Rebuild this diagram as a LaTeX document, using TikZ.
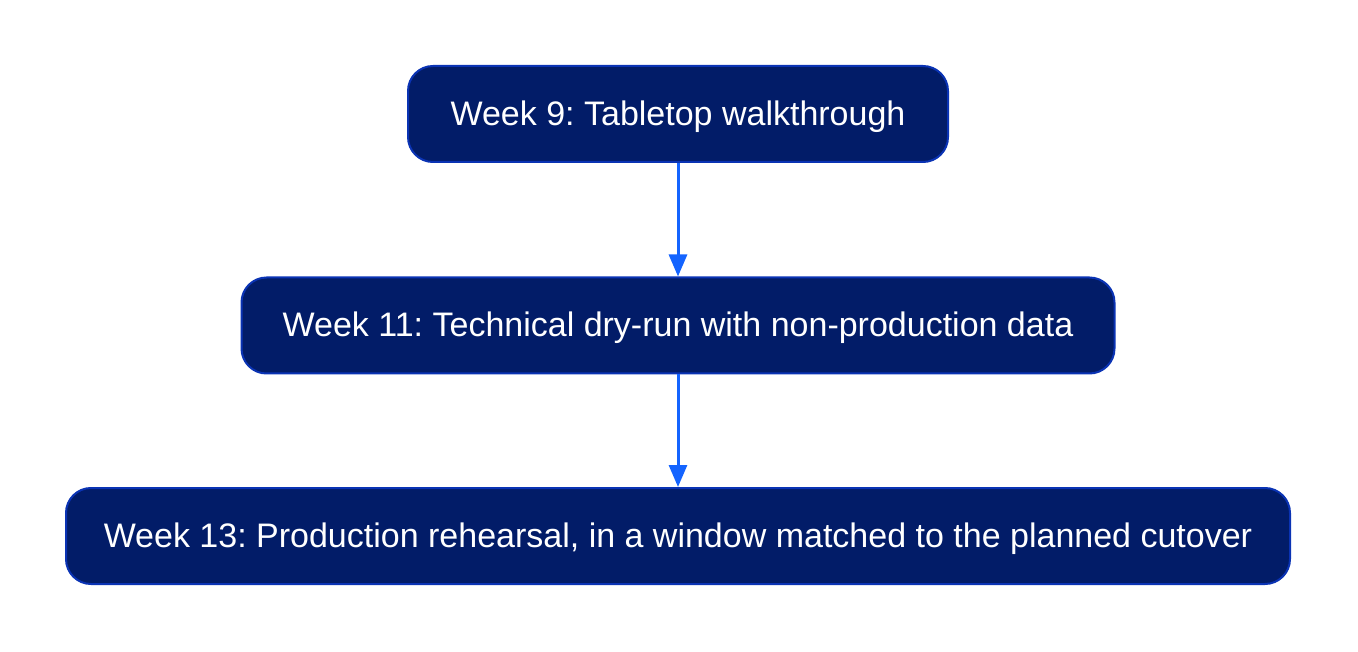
\documentclass[tikz,border=0pt]{standalone}
\usepackage{fontspec}
\setmainfont{Liberation Sans}
\usetikzlibrary{arrows.meta}
\definecolor{boxfill}{HTML}{021C68}
\definecolor{boxline}{HTML}{0A33B4}
\definecolor{arrowc}{HTML}{1464FF}
\tikzset{
  stepbox/.style={draw=boxline, fill=boxfill, line width=2pt, rounded corners=25pt,
    text=white, font=\fontsize{34}{38}\selectfont\frenchspacing, minimum height=96pt, inner sep=0pt,
    text depth=2pt},
  conn/.style={draw=arrowc, line width=3pt, -{Triangle[length=22pt,width=18pt]}}
}
\begin{document}
\begin{tikzpicture}[x=1pt,y=-1pt]
\useasboundingbox (0,0) rectangle (1358,652);
\node[stepbox, minimum width=540pt] (a) at (678,114) {Week 9: Tabletop walkthrough};
\node[stepbox, minimum width=873pt] (b) at (678,325.5) {Week 11: Technical dry-run with non-production data};
\node[stepbox, minimum width=1224pt] (c) at (678,536) {Week 13: Production rehearsal, in a window matched to the planned cutover};
\draw[conn] (a.south) -- (b.north);
\draw[conn] (b.south) -- (c.north);
\end{tikzpicture}
\end{document}
